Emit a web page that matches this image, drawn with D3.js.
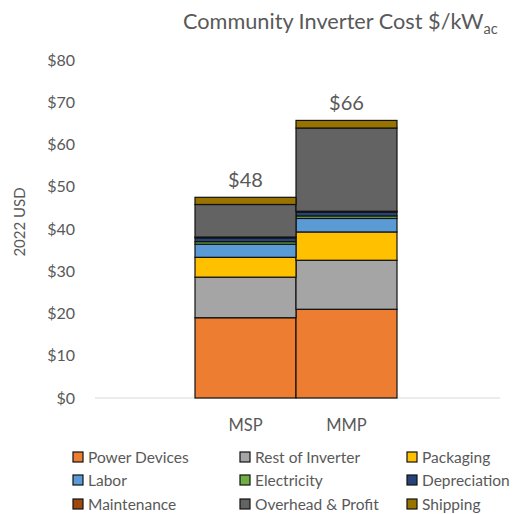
<!DOCTYPE html>
<html>
<head>
<meta charset="utf-8">
<script src="https://cdn.jsdelivr.net/npm/d3@7"></script>
<style>
  body { margin: 0; background: #fff; }
  svg { font-family: Lato, "Open Sans", sans-serif; }
</style>
</head>
<body>
<div id="chart"></div>
<script>
// categories and stacked cost components ($/kWac, 2022 USD)
const categories = ["MSP", "MMP"];
const components = ["Power Devices", "Rest of Inverter", "Packaging", "Labor", "Electricity",
                    "Depreciation", "Maintenance", "Overhead & Profit", "Shipping"];
const colors = ["#ED7D31", "#A5A5A5", "#FFC000", "#5B9BD5", "#70AD47",
                "#264478", "#9E480E", "#636363", "#997300"];
const mspValues = [19.0, 9.6, 4.7, 3.1, 0.6, 0.9, 0.2, 7.7, 1.7];
const mmpValues = [21.0, 11.6, 6.7, 3.2, 0.6, 0.9, 0.2, 19.7, 1.8];
const yTicks = [0, 10, 20, 30, 40, 50, 60, 70, 80];

const width = 526, height = 514;
const textColor = "#595959";

const svg = d3.select("#chart").append("svg")
  .attr("width", width)
  .attr("height", height);

// build table for d3.stack
const table = categories.map((c, i) => {
  const vals = i === 0 ? mspValues : mmpValues;
  const row = { category: c };
  components.forEach((k, j) => row[k] = vals[j]);
  return row;
});

const series = d3.stack().keys(components)(table);

const x = d3.scaleBand()
  .domain(categories)
  .range([195, 397])
  .paddingInner(0);

const y = d3.scaleLinear()
  .domain([0, 80])
  .range([398, 60]);

const color = d3.scaleOrdinal().domain(components).range(colors);

// title
const title = svg.append("text")
  .attr("x", 183)
  .attr("y", 29)
  .attr("fill", textColor)
  .style("font-size", "21.7px");
title.append("tspan").text("Community Inverter Cost $/kW");
title.append("tspan").attr("dy", 5).style("font-size", "14.5px").text("ac");

// y axis
const yAxis = d3.axisLeft(y)
  .tickValues(yTicks)
  .tickFormat(d => "$" + d)
  .tickSize(0)
  .tickPadding(0);

const yg = svg.append("g")
  .attr("transform", "translate(75,0)")
  .call(yAxis);
yg.select(".domain").remove();
yg.selectAll("text")
  .attr("fill", textColor)
  .style("font-size", "16px")
  .style("font-family", "Lato, sans-serif");

svg.append("text")
  .attr("transform", "translate(25,222) rotate(-90)")
  .attr("text-anchor", "middle")
  .attr("fill", textColor)
  .style("font-size", "15px")
  .text("2022 USD");

// baseline
svg.append("line")
  .attr("x1", 95).attr("x2", 500)
  .attr("y1", y(0)).attr("y2", y(0))
  .attr("stroke", "#d9d9d9")
  .attr("stroke-width", 1);

// stacked bars
svg.append("g")
  .selectAll("g")
  .data(series)
  .join("g")
  .attr("fill", d => color(d.key))
  .selectAll("rect")
  .data(d => d)
  .join("rect")
  .attr("x", d => x(d.data.category))
  .attr("y", d => y(d[1]))
  .attr("width", x.bandwidth())
  .attr("height", d => y(d[0]) - y(d[1]))
  .attr("stroke", "#111")
  .attr("stroke-width", 1.2);

// total labels
svg.append("g")
  .selectAll("text")
  .data(table)
  .join("text")
  .attr("x", d => x(d.category) + x.bandwidth() / 2)
  .attr("y", d => y(d3.sum(components, k => d[k])) - 10)
  .attr("text-anchor", "middle")
  .attr("fill", textColor)
  .style("font-size", "20px")
  .text(d => "$" + Math.round(d3.sum(components, k => d[k])));

// category labels
svg.append("g")
  .selectAll("text")
  .data(categories)
  .join("text")
  .attr("x", d => x(d) + x.bandwidth() / 2)
  .attr("y", 431)
  .attr("text-anchor", "middle")
  .attr("fill", textColor)
  .style("font-size", "16.5px")
  .text(d => d);

// legend, 3 columns
const colX = [73, 240, 407];
const rowY = [457, 480, 504];
const legend = svg.append("g")
  .selectAll("g")
  .data(components)
  .join("g")
  .attr("transform", (d, i) => `translate(${colX[i % 3]},${rowY[Math.floor(i / 3)]})`);

legend.append("rect")
  .attr("x", 0).attr("y", -5)
  .attr("width", 10).attr("height", 10)
  .attr("fill", d => color(d))
  .attr("stroke", "#111")
  .attr("stroke-width", 1.2);

legend.append("text")
  .attr("x", 15)
  .attr("y", 5.5)
  .attr("fill", textColor)
  .style("font-size", "15.5px")
  .text(d => d);
</script>
</body>
</html>
